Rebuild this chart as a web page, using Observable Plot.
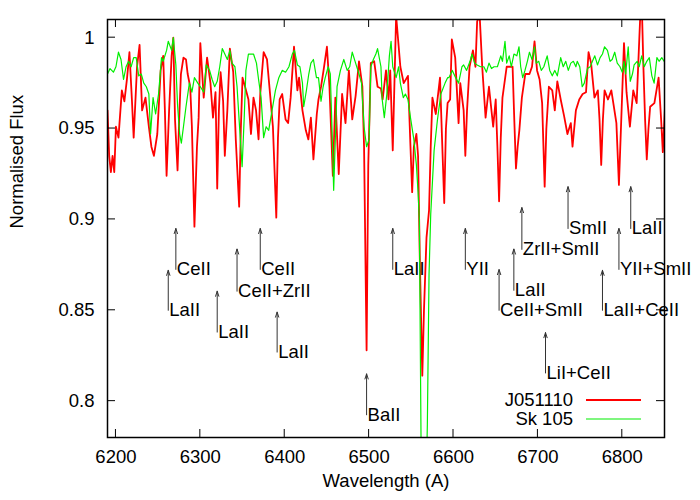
<!DOCTYPE html>
<html><head><meta charset="utf-8">
<script src="https://cdn.jsdelivr.net/npm/d3@7"></script>
<script src="https://cdn.jsdelivr.net/npm/@observablehq/plot@0.6"></script>
<style>body{margin:0;background:#fff;}</style>
</head><body><div id="chart"></div>
<script>
const xTicks = [6200, 6300, 6400, 6500, 6600, 6700, 6800];
const yTicks = [0.8, 0.85, 0.9, 0.95, 1];
const seriesNames = ["J051110", "Sk 105"];

// [wavelength, flux]
const redSpectrum = [
 [6190,0.960],[6192,0.935],[6194,0.926],[6196,0.935],[6198,0.926],[6200,0.951],[6203,0.945],[6207,0.971],[6210,0.965],[6213,0.977],
 [6216,0.992],[6219,0.965],[6221,0.945],[6225,0.984],[6228,0.996],[6231,0.960],[6235,0.967],[6239,0.951],[6242,0.940],[6245,0.935],
 [6249,0.947],[6253,0.982],[6256,0.990],[6258,0.960],[6260,0.924],[6263,0.960],[6266,0.990],[6268,1.000],[6270,0.955],[6273,0.927],
 [6275,0.956],[6277,0.980],[6280,0.989],[6283,0.988],[6285,0.980],[6288,0.973],[6290,0.951],[6293,0.896],[6296,0.940],[6298,0.956],
 [6300,0.997],[6304,0.967],[6308,0.989],[6312,0.975],[6315,0.956],[6318,0.970],[6320,0.917],[6322,0.960],[6324,0.981],[6327,0.965],
 [6329,0.935],[6332,0.960],[6335,0.994],[6339,0.981],[6342,0.944],[6346,0.907],[6348,0.950],[6350,0.978],[6353,0.973],[6357,0.966],
 [6360,0.947],[6363,0.967],[6366,0.960],[6369,0.944],[6371,0.969],[6375,0.992],[6379,0.988],[6383,0.967],[6386,0.951],[6390,0.901],
 [6392,0.945],[6394,0.966],[6397,0.969],[6401,0.955],[6404,0.953],[6407,0.967],[6411,0.995],[6415,0.971],[6417,0.978],[6421,0.960],
 [6425,0.949],[6428,0.944],[6431,0.956],[6434,0.933],[6438,0.958],[6440,0.966],[6443,0.973],[6446,0.982],[6450,0.995],[6453,0.973],
 [6457,0.924],[6460,0.967],[6464,0.925],[6468,0.969],[6472,0.953],[6476,0.982],[6480,0.955],[6484,0.968],[6488,0.987],[6492,0.973],
 [6494,0.940],[6497,0.828],[6499,0.930],[6502,0.986],[6506,0.987],[6510,0.973],[6514,0.972],[6516,0.966],[6520,0.982],[6523,0.966],
 [6525,0.982],[6528,0.938],[6532,1.012],[6537,0.984],[6541,0.975],[6546,0.979],[6549,0.940],[6551,0.915],[6553,0.940],[6556,0.947],
 [6558,0.935],[6560,0.880],[6563,0.814],[6565,0.850],[6568,0.890],[6571,0.905],[6573,0.940],[6575,0.967],[6579,0.958],[6584,0.978],
 [6586,0.950],[6589,0.909],[6591,0.950],[6593,0.964],[6596,0.966],[6598,0.999],[6602,0.989],[6606,0.953],[6608,0.975],[6612,0.960],
 [6614,0.935],[6616,0.960],[6619,0.984],[6623,0.993],[6626,0.984],[6628,1.009],[6631,1.012],[6634,0.984],[6638,0.956],[6642,0.973],
 [6647,0.951],[6650,0.966],[6652,0.940],[6654,0.910],[6656,0.945],[6658,0.967],[6663,0.984],[6670,0.984],[6672,0.955],[6674,0.928],
 [6676,0.940],[6678,0.949],[6681,0.967],[6685,0.980],[6690,0.980],[6693,0.984],[6696,0.998],[6699,0.982],[6702,0.977],[6705,0.964],
 [6708,0.918],[6710,0.950],[6713,0.973],[6717,0.971],[6720,0.960],[6723,0.976],[6727,0.966],[6731,0.957],[6735,0.947],[6739,0.953],
 [6741,0.940],[6745,0.960],[6749,0.966],[6753,0.969],[6757,0.970],[6760,0.992],[6763,0.986],[6767,0.967],[6771,0.971],[6773,0.955],
 [6775,0.930],[6777,0.955],[6779,0.971],[6783,0.966],[6787,0.971],[6790,0.962],[6793,0.953],[6796,0.919],[6799,0.958],[6802,0.997],
 [6805,0.970],[6809,0.951],[6813,0.971],[6817,0.964],[6821,1.009],[6823,1.020],[6825,0.984],[6827,0.955],[6829,0.933],[6831,0.950],
 [6833,0.962],[6838,0.964],[6843,0.978],[6846,0.955],[6848,0.937],[6851,0.966]
];

const greenSpectrum = [
 [6190,0.980],[6193,0.983],[6197,0.981],[6200,0.984],[6203,0.992],[6206,0.988],[6209,0.977],[6212,0.984],[6215,0.987],[6218,0.984],
 [6221,0.989],[6224,0.989],[6227,0.979],[6230,0.980],[6233,0.975],[6236,0.973],[6239,0.969],[6241,0.947],[6244,0.967],[6247,0.958],
 [6250.5,0.969],[6254,0.989],[6256,0.987],[6260,0.993],[6262,0.998],[6266,0.993],[6268,1.000],[6271,0.985],[6273,0.963],[6275.5,0.947],
 [6277.5,0.942],[6280,0.951],[6283,0.962],[6287,0.975],[6290,0.970],[6293,0.978],[6297,0.975],[6300,0.973],[6304,0.970],[6307,0.985],
 [6311,0.982],[6314,0.977],[6317,0.973],[6320,0.976],[6323,0.984],[6326,0.994],[6329,0.991],[6332,0.988],[6335,0.993],[6337.5,0.986],
 [6341,0.984],[6343.5,0.973],[6347,0.947],[6349.5,0.929],[6352,0.956],[6354,0.982],[6357,0.991],[6360,0.991],[6363,0.991],[6366.5,0.986],
 [6369,0.977],[6372,0.967],[6375,0.945],[6378,0.951],[6381,0.949],[6385,0.960],[6389,0.971],[6393,0.978],[6397,0.982],[6401,0.981],
 [6405,0.984],[6409,0.991],[6411.5,0.993],[6415,0.985],[6418,0.984],[6421,0.975],[6422.5,0.962],[6425.7,0.971],[6428.5,0.980],[6431,0.986],
 [6434,0.988],[6437.6,0.978],[6440,0.978],[6443,0.965],[6445.5,0.973],[6448,0.978],[6451.5,0.984],[6454,0.980],[6456,0.950],[6458,0.916],
 [6460,0.945],[6462,0.973],[6466,0.982],[6470,0.988],[6474,0.982],[6477,0.984],[6480,0.992],[6484,0.986],[6488,0.980],[6491,0.975],
 [6494,0.951],[6497,0.940],[6500,0.944],[6502,0.984],[6505,0.988],[6508,0.991],[6510,0.994],[6514,0.984],[6515.5,0.966],[6518,0.956],
 [6521,0.969],[6524,0.990],[6526,0.998],[6528,0.984],[6532,0.978],[6535,0.984],[6537,0.975],[6540.5,0.967],[6543,0.969],[6546,0.966],
 [6549,0.956],[6553,0.944],[6556,0.930],[6558,0.915],[6559.5,0.900],[6561.5,0.780],[6563,0.740],[6567,0.740],[6569,0.787],[6571,0.870],
 [6573,0.903],[6577,0.938],[6581,0.955],[6585,0.969],[6590,0.975],[6593,0.978],[6594.5,0.978],[6598.6,0.982],[6602.5,0.978],[6606,0.975],
 [6610,0.984],[6612,0.985],[6615.5,0.982],[6619.5,0.987],[6622,0.991],[6625,0.986],[6628,0.985],[6632,0.984],[6636,0.984],[6639,0.981],
 [6642,0.986],[6645,0.983],[6648,0.984],[6652,0.984],[6656,0.990],[6658,0.987],[6661,0.998],[6663,0.986],[6666,0.990],[6668.5,0.984],
 [6671.6,0.991],[6675,0.990],[6677.6,0.995],[6679.6,0.984],[6682,0.978],[6684.7,0.982],[6687.5,0.987],[6690,0.992],[6693,0.988],[6696,0.995],
 [6698,0.986],[6701,0.987],[6704,0.982],[6707,0.984],[6711,0.990],[6714,0.982],[6717,0.979],[6720,0.982],[6723,0.979],[6727,0.989],
 [6730,0.984],[6733,0.987],[6736,0.982],[6739,0.986],[6742,0.987],[6745,0.984],[6746.6,0.987],[6749.6,0.984],[6752.5,0.973],[6755,0.975],
 [6758.7,0.983],[6762,0.984],[6764.6,0.987],[6767.4,0.990],[6770.6,0.985],[6773.7,0.989],[6776.5,0.991],[6779,0.995],[6782.4,0.993],[6785.5,0.987],
 [6788,0.988],[6791,0.992],[6794,0.986],[6797.3,0.984],[6800,0.981],[6802,0.987],[6804,0.980],[6807,0.995],[6809.4,0.976],[6812,0.980],
 [6814,0.985],[6817.6,0.987],[6820,0.984],[6823,0.990],[6826,0.984],[6829,0.987],[6832,0.989],[6835,0.979],[6837.7,0.975],[6841,0.989],
 [6843.6,0.987],[6846.8,0.989],[6849.5,0.987]
];

// line identifications: label, wavelength, label flux level, arrow tip flux level
const annoLabels = ["LaII","CeII","LaII","CeII+ZrII","CeII","LaII","BaII","LaII","YII","CeII+SmII","LaII","ZrII+SmII","LiI+CeII","SmII","LaII+CeII","YII+SmII","LaII"];
const annoX      = [6262, 6271, 6320, 6343.5, 6371, 6391, 6497, 6528, 6614, 6654, 6671.5, 6681, 6709, 6735.7, 6776.5, 6796, 6810];
const annoY      = [0.850, 0.8725, 0.838, 0.8605, 0.8725, 0.827, 0.7925, 0.8725, 0.8725, 0.850, 0.861, 0.8835, 0.8155, 0.895, 0.850, 0.8725, 0.895];
const annoTop    = [0.872, 0.895, 0.8605, 0.8837, 0.895, 0.849, 0.815, 0.895, 0.895, 0.8724, 0.8837, 0.9065, 0.8377, 0.918, 0.872, 0.895, 0.918];

const red = redSpectrum.map(([w, f]) => ({w, f}));
const green = greenSpectrum.map(([w, f]) => ({w, f}));
const anno = annoLabels.map((label, i) => ({label, x: annoX[i], y: annoY[i], top: annoTop[i]}));

const FONT = "'Liberation Sans', Arial, Helvetica, sans-serif";
const FS = 18.5;
const colors = ["#ff0000", "#00ee00"];
const widths = [1.8, 1.2];

const chart = Plot.plot({
  width: 700, height: 500,
  marginLeft: 107, marginRight: 36, marginTop: 19, marginBottom: 63,
  style: {fontFamily: FONT, fontSize: FS + "px", color: "black", background: "white"},
  x: {domain: [6190, 6850]},
  y: {domain: [0.78, 1.01]},
  marks: [
    Plot.axisX({ticks: xTicks, tickSize: 0, tickPadding: 12, tickFormat: d => String(d), label: null, fontSize: FS}),
    Plot.axisY({ticks: yTicks, tickSize: 0, tickPadding: 13, tickFormat: d => String(d), label: null, fontSize: FS}),
    Plot.line(red, {x: "w", y: "f", stroke: colors[0], strokeWidth: widths[0], clip: true}),
    Plot.line(green, {x: "w", y: "f", stroke: colors[1], strokeWidth: widths[1], clip: true}),
    Plot.arrow(anno, {x1: "x", y1: "y", x2: "x", y2: "top", stroke: "#333", strokeWidth: 1, headLength: 8, headAngle: 36}),
    Plot.text(anno, {x: "x", y: "y", text: "label", textAnchor: "start", lineAnchor: "middle", dx: 1, fontSize: FS, fill: "black"}),
    Plot.frame({stroke: "black", strokeWidth: 1.5}),
    Plot.text(["Wavelength (A)"], {text: d => d, frameAnchor: "bottom", dy: 49, fontSize: FS, fill: "black"}),
    Plot.text(["Normalised Flux"], {text: d => d, frameAnchor: "left", dx: -90, rotate: -90, fontSize: FS, fill: "black"})
  ]
});

const svg = d3.select(chart);
const sx = chart.scale("x"), sy = chart.scale("y");
const L = 107, R = 664, T = 19, B = 437, tl = 8;
const g = svg.append("g").attr("stroke", "black").attr("stroke-width", 1);
xTicks.forEach(v => {
  const px = sx.apply(v);
  g.append("line").attr("x1", px).attr("x2", px).attr("y1", B).attr("y2", B - tl);
  g.append("line").attr("x1", px).attr("x2", px).attr("y1", T).attr("y2", T + tl);
});
yTicks.forEach(v => {
  const py = sy.apply(v);
  g.append("line").attr("x1", L).attr("x2", L + tl).attr("y1", py).attr("y2", py);
  g.append("line").attr("x1", R).attr("x2", R - tl).attr("y1", py).attr("y2", py);
});
const leg = svg.append("g").attr("font-family", FONT).attr("font-size", FS + "px");
seriesNames.forEach((n, i) => {
  const y = B - 37 + i * 19;
  leg.append("text").attr("x", R - 91).attr("y", y).attr("dy", "0.35em").attr("text-anchor", "end").attr("fill", "black").text(n);
  leg.append("line").attr("x1", R - 78).attr("x2", R - 23).attr("y1", y).attr("y2", y).attr("stroke", colors[i]).attr("stroke-width", widths[i]);
});

document.getElementById("chart").appendChild(chart);
</script>
</body></html>
